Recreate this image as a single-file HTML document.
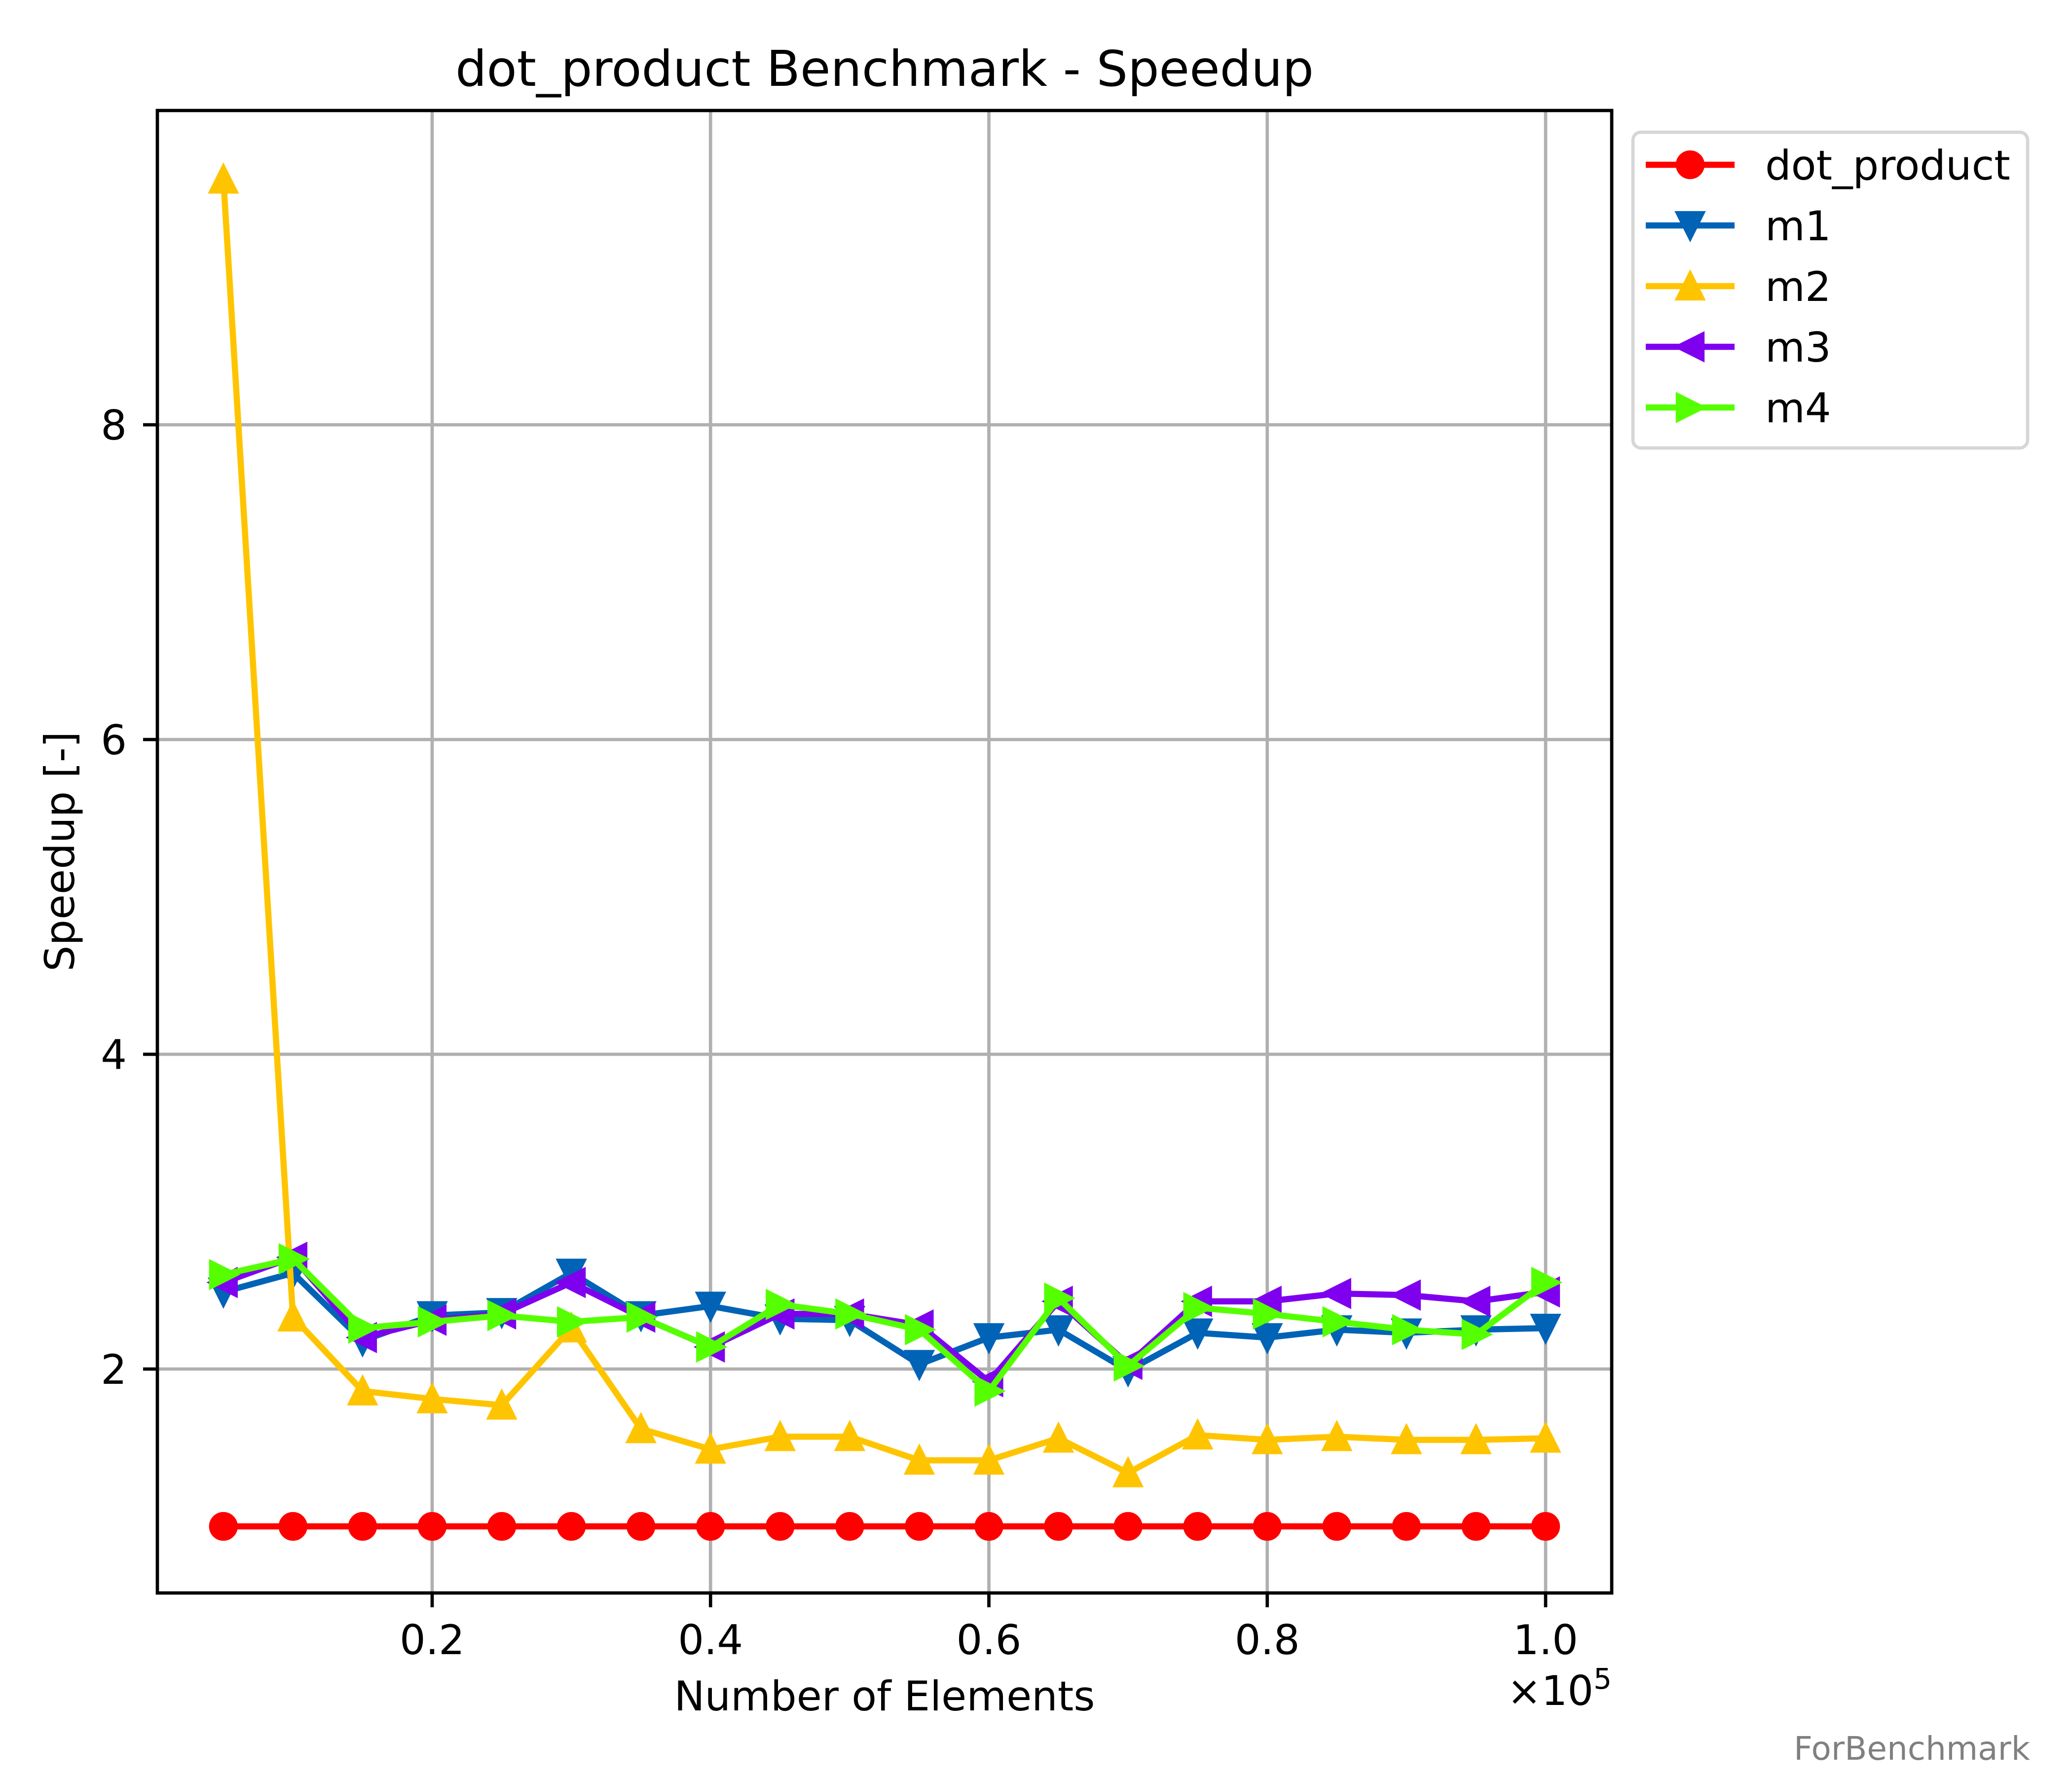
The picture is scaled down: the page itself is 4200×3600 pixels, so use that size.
<!DOCTYPE html>
<html><head><meta charset="utf-8"><style>
html,body{margin:0;padding:0;background:#fff;}
svg{display:block;font-family:"DejaVu Sans","Liberation Sans",sans-serif;}
</style></head><body>
<svg id="chart" width="4200" height="3600" viewBox="0 0 4200 3600" xmlns="http://www.w3.org/2000/svg">
<rect x="0" y="0" width="4200" height="3600" fill="#fff"/>
<text x="1793" y="174" font-size="100" text-anchor="middle">dot_product Benchmark - Speedup</text>
<g id="grid"></g>
<g id="series"></g>
<rect x="319" y="224" width="2948" height="3005" fill="none" stroke="#000" stroke-width="6.7"/>
<g id="ticks"></g>
<text x="1793" y="3467" font-size="83" text-anchor="middle">Number of Elements</text>
<text x="3267" y="3456" font-size="83" text-anchor="end">×10<tspan font-size="58" dy="-33">5</tspan></text>
<text transform="translate(150,1726) rotate(-90)" font-size="83" text-anchor="middle">Speedup [-]</text>
<g id="legend">
<rect x="3310" y="268" width="800" height="640" rx="16" fill="#fff" stroke="#d6d6d6" stroke-width="6.7"/>
</g>
<text x="4115" y="3567" font-size="66" fill="#808080" text-anchor="end">ForBenchmark</text>
</svg>
<script>
const xValues = [0.05,0.10,0.15,0.20,0.25,0.30,0.35,0.40,0.45,0.50,0.55,0.60,0.65,0.70,0.75,0.80,0.85,0.90,0.95,1.00];
const dotProduct = [1,1,1,1,1,1,1,1,1,1,1,1,1,1,1,1,1,1,1,1];
const m1 = [2.49,2.61,2.18,2.34,2.36,2.61,2.34,2.40,2.32,2.31,2.03,2.20,2.25,1.99,2.23,2.20,2.25,2.23,2.25,2.26];
const m2 = [9.56,2.33,1.86,1.81,1.77,2.26,1.62,1.49,1.57,1.57,1.42,1.42,1.56,1.34,1.58,1.55,1.57,1.55,1.55,1.56];
const m3 = [2.55,2.71,2.20,2.31,2.35,2.55,2.33,2.14,2.35,2.35,2.28,1.92,2.43,2.03,2.43,2.43,2.48,2.47,2.43,2.49];
const m4 = [2.60,2.70,2.26,2.30,2.34,2.30,2.33,2.14,2.41,2.35,2.25,1.86,2.45,2.02,2.39,2.35,2.30,2.25,2.22,2.55];
const xTicks = [0.2,0.4,0.6,0.8,1.0];
const xTickLabels = ["0.2","0.4","0.6","0.8","1.0"];
const yTicks = [2,4,6,8];
const yTickLabels = ["2","4","6","8"];
const seriesNames = ["dot_product","m1","m2","m3","m4"];

const NS = "http://www.w3.org/2000/svg";
const L = 319, R = 3267, T = 224, B = 3229;
const xMin = 0.00257, xMax = 1.0475;
const yMin = 0.577, yMax = 9.997;
function sx(v){ return L + (v - xMin) / (xMax - xMin) * (R - L); }
function sy(v){ return B - (v - yMin) / (yMax - yMin) * (B - T); }
function mk(tag, attrs, parent){ const e = document.createElementNS(NS, tag); for (const k in attrs) e.setAttribute(k, attrs[k]); parent.appendChild(e); return e; }

const grid = document.getElementById('grid');
const ticks = document.getElementById('ticks');
xTicks.forEach((t, i) => {
  const x = sx(t);
  const g = mk('line', {x1:x, x2:x, y1:T, y2:B, stroke:'#b0b0b0', 'stroke-width':6.7}, grid);
  
  
  const tk = mk('line', {x1:x, x2:x, y1:B, y2:B+29, stroke:'#000', 'stroke-width':6.7}, ticks);
  
  
  const lb = mk('text', {x:x, y:3353, 'font-size':83, 'text-anchor':'middle'}, ticks);
  lb.textContent = xTickLabels[i];
  
  
});
yTicks.forEach((t, i) => {
  const y = sy(t);
  const g = mk('line', {x1:L, x2:R, y1:y, y2:y, stroke:'#b0b0b0', 'stroke-width':6.7}, grid);
  
  
  const tk = mk('line', {x1:L-29, x2:L, y1:y, y2:y, stroke:'#000', 'stroke-width':6.7}, ticks);
  
  
  const lb = mk('text', {x:257, y:y+30, 'font-size':83, 'text-anchor':'end'}, ticks);
  lb.textContent = yTickLabels[i];
  
  
});

const S = 50, h = S / 2;
function marker(parent, type, x, y, color){
  let e;
  if (type === 'o') e = mk('circle', {cx:x, cy:y, r:h}, parent);
  else {
    let pts;
    if (type === 'v') pts = [[0,h],[-h,-h],[h,-h]];
    else if (type === '^') pts = [[0,-h],[-h,h],[h,h]];
    else if (type === '<') pts = [[-h,0],[h,-h],[h,h]];
    else pts = [[h,0],[-h,-h],[-h,h]];
    e = mk('polygon', {points: pts.map(p => (x+p[0])+','+(y+p[1])).join(' ')}, parent);
  }
  e.setAttribute('fill', color);
  e.setAttribute('stroke', color);
  e.setAttribute('stroke-width', 8.3);
  e.setAttribute('stroke-linejoin', 'miter');
  return e;
}

const seriesData = [dotProduct, m1, m2, m3, m4];
const colors = ['#ff0000','#0063b6','#ffc400','#7f00ee','#55ff00'];
const markers = ['o','v','^','<','>'];
const seriesLayer = document.getElementById('series');
seriesData.forEach((vals, si) => {
  const g = mk('g', {}, seriesLayer);
  
  
  const pts = vals.map((v, i) => sx(xValues[i]) + ',' + sy(v)).join(' ');
  const pl = mk('polyline', {points:pts, fill:'none', stroke:colors[si], 'stroke-width':12.5, 'stroke-linejoin':'round'}, g);
  
  
  vals.forEach((v, i) => {
    const m = marker(g, markers[si], sx(xValues[i]), sy(v), colors[si]);
    
    
  });
});

const legend = document.getElementById('legend');
seriesNames.forEach((name, i) => {
  const y = 334 + i * 123;
  const g = mk('g', {}, legend);
  
  
  mk('line', {x1:3336, x2:3516, y1:y, y2:y, stroke:colors[i], 'stroke-width':12.5}, g);
  marker(g, markers[i], 3426, y, colors[i]);
  const t = mk('text', {x:3578, y:y+30, 'font-size':83}, g);
  t.textContent = name;
});
</script>
</body></html>
